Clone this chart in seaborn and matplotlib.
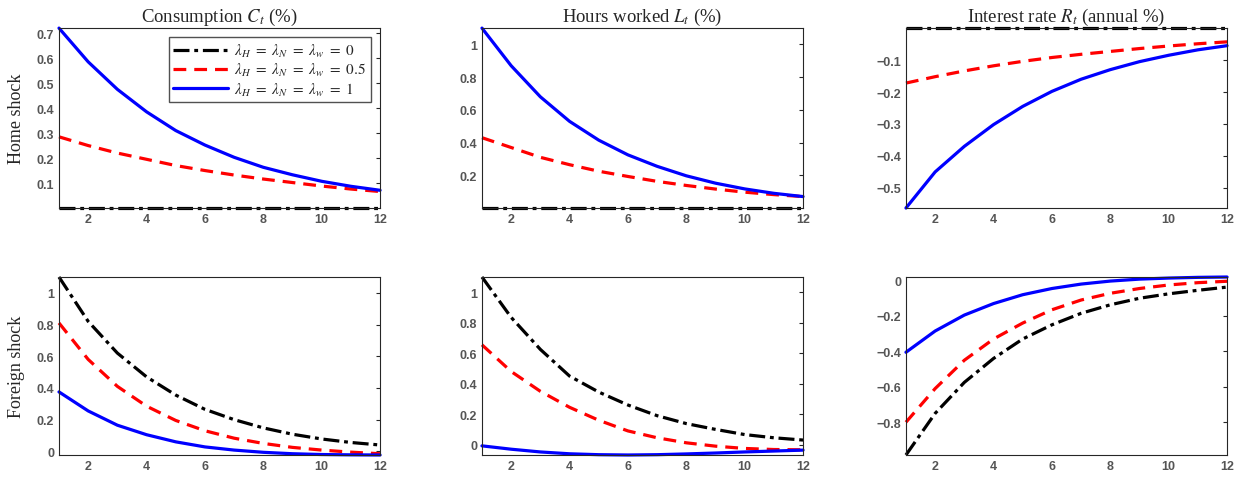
import numpy as np
import pandas as pd
import matplotlib
matplotlib.use("Agg")
import matplotlib.pyplot as plt
import seaborn as sns

sns.set_style("white")
plt.rcParams["font.family"] = ["Liberation Sans", "DejaVu Sans"]
plt.rcParams["mathtext.fontset"] = "stix"

t = list(range(1, 13))

# home shock, rows = lambda 0 / 0.5 / 1
c_home_0 = [0.0] * 12
c_home_05 = [0.285, 0.25, 0.22, 0.195, 0.17, 0.15, 0.132, 0.116, 0.102, 0.088, 0.076, 0.066]
c_home_1 = [0.72, 0.585, 0.475, 0.385, 0.31, 0.252, 0.203, 0.163, 0.133, 0.107, 0.087, 0.071]

l_home_0 = [0.0] * 12
l_home_05 = [0.43, 0.37, 0.31, 0.265, 0.225, 0.193, 0.163, 0.138, 0.116, 0.097, 0.082, 0.07]
l_home_1 = [1.1, 0.87, 0.68, 0.53, 0.415, 0.325, 0.255, 0.197, 0.152, 0.117, 0.09, 0.07]

r_home_0 = [0.0] * 12
r_home_05 = [-0.172, -0.152, -0.134, -0.118, -0.104, -0.092, -0.082, -0.073, -0.064, -0.056, -0.049, -0.043]
r_home_1 = [-0.563, -0.45, -0.37, -0.302, -0.245, -0.198, -0.16, -0.13, -0.105, -0.085, -0.068, -0.055]

# foreign shock
c_for_0 = [1.1, 0.82, 0.62, 0.47, 0.355, 0.265, 0.2, 0.148, 0.108, 0.078, 0.056, 0.04]
c_for_05 = [0.81, 0.58, 0.41, 0.285, 0.195, 0.13, 0.083, 0.05, 0.025, 0.008, -0.005, -0.015]
c_for_1 = [0.375, 0.255, 0.165, 0.105, 0.06, 0.028, 0.008, -0.006, -0.015, -0.02, -0.022, -0.023]

l_for_0 = [1.1, 0.835, 0.625, 0.45, 0.345, 0.26, 0.19, 0.138, 0.1, 0.066, 0.045, 0.03]
l_for_05 = [0.655, 0.48, 0.35, 0.245, 0.16, 0.09, 0.045, 0.012, -0.01, -0.025, -0.032, -0.034]
l_for_1 = [-0.008, -0.03, -0.048, -0.06, -0.066, -0.068, -0.066, -0.061, -0.055, -0.048, -0.042, -0.036]

r_for_0 = [-0.985, -0.75, -0.575, -0.44, -0.33, -0.25, -0.185, -0.137, -0.1, -0.075, -0.055, -0.037]
r_for_05 = [-0.8, -0.61, -0.45, -0.33, -0.24, -0.165, -0.11, -0.072, -0.045, -0.025, -0.012, -0.004]
r_for_1 = [-0.405, -0.285, -0.195, -0.13, -0.08, -0.045, -0.02, -0.003, 0.008, 0.014, 0.018, 0.02]

titles = [r"Consumption $C_t$ (%)", r"Hours worked $L_t$ (%)", r"Interest rate $R_t$ (annual %)"]
row_labels = ["Home shock", "Foreign shock"]
legend_labels = [r"$\lambda_H\ =\ \lambda_N\ =\ \lambda_w\ =\ 0$",
                 r"$\lambda_H\ =\ \lambda_N\ =\ \lambda_w\ =\ 0.5$",
                 r"$\lambda_H\ =\ \lambda_N\ =\ \lambda_w\ =\ 1$"]

panels = [
    [(c_home_0, c_home_05, c_home_1), (l_home_0, l_home_05, l_home_1), (r_home_0, r_home_05, r_home_1)],
    [(c_for_0, c_for_05, c_for_1), (l_for_0, l_for_05, l_for_1), (r_for_0, r_for_05, r_for_1)],
]
yticks = [
    [[0.1, 0.2, 0.3, 0.4, 0.5, 0.6, 0.7], [0.2, 0.4, 0.6, 0.8, 1.0], [-0.5, -0.4, -0.3, -0.2, -0.1]],
    [[0, 0.2, 0.4, 0.6, 0.8, 1.0], [0, 0.2, 0.4, 0.6, 0.8, 1.0], [-0.8, -0.6, -0.4, -0.2, 0]],
]

styles = [("black", (0, (5, 1.5, 1.2, 1.5))), ("#ff0000", (0, (4, 2.5))), ("#0000ff", "-")]

fig = plt.figure(figsize=(12.47, 4.85), dpi=100)
lefts = [0.0473, 0.3865, 0.7265]
width = 0.2575
rows_y = [(0.569, 0.371), (0.0598, 0.367)]

serif = ["Liberation Serif", "DejaVu Serif"]

for i in range(2):
    for j in range(3):
        ax = fig.add_axes([lefts[j], rows_y[i][0], width, rows_y[i][1]])
        allv = []
        for k, ys in enumerate(panels[i][j]):
            col, ls = styles[k]
            sns.lineplot(x=t, y=ys, ax=ax, color=col, linestyle=ls, linewidth=2.3,
                         label=legend_labels[k], legend=False, clip_on=False)
            allv += ys
        ax.set_xlim(1, 12)
        ax.set_ylim(min(allv), max(allv))
        ax.set_xticks([2, 4, 6, 8, 10, 12])
        ax.set_yticks(yticks[i][j])
        ax.set_yticklabels([("%g" % v).replace("-", "\u2212") for v in yticks[i][j]])
        ax.tick_params(direction="in", length=3, width=0.8, colors="#262626",
                       labelcolor="#555555", labelsize=9, right=True, top=False)
        for lab in ax.get_xticklabels() + ax.get_yticklabels():
            lab.set_fontweight("bold")
        for s in ax.spines.values():
            s.set_color("#262626")
            s.set_linewidth(0.8)
        if i == 0:
            ax.set_title(titles[j], fontsize=13.5, family=serif, pad=5)
        if j == 0:
            ax.set_ylabel(row_labels[i], fontsize=13, family=serif, labelpad=8)
        if i == 0 and j == 0:
            ax.legend(loc="upper right", fontsize=11, handlelength=3.6, frameon=True,
                      fancybox=False, edgecolor="#262626", borderpad=0.3,
                      labelspacing=0.15, handletextpad=0.4, borderaxespad=0.6)

fig.savefig("out.png", dpi=100)
